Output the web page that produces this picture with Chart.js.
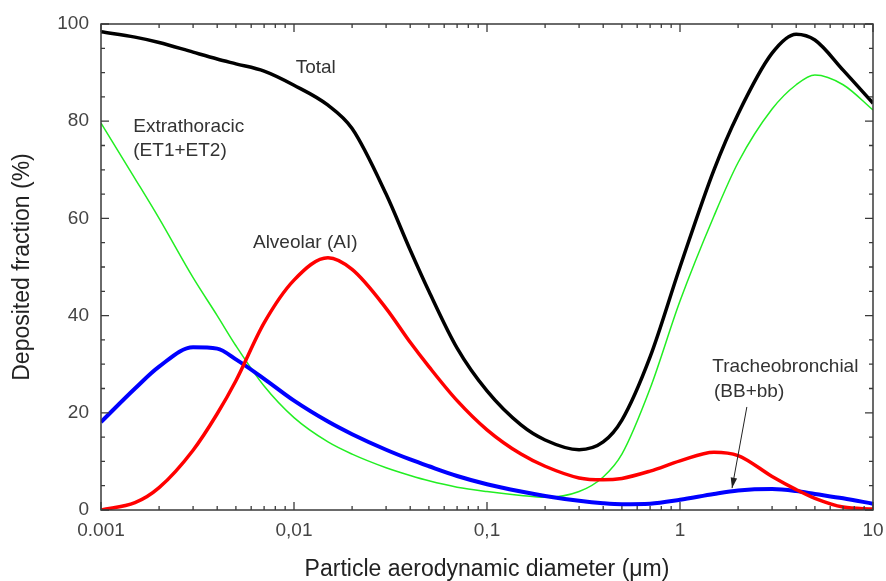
<!DOCTYPE html>
<html>
<head>
<meta charset="utf-8">
<script src="https://cdn.jsdelivr.net/npm/chart.js@4"></script>
<style>
  html, body { margin: 0; padding: 0; background: #fff; }
  #wrap { width: 886px; height: 581px; }
</style>
</head>
<body>
<div id="wrap"><canvas id="graficoDeposicao"></canvas></div>
<script>
// particle diameter (um)
const diameters = [0.001, 0.0015, 0.002, 0.003, 0.004, 0.005, 0.007, 0.01, 0.015, 0.02, 0.03, 0.04, 0.05, 0.07,
    0.1, 0.15, 0.2, 0.3, 0.4, 0.5, 0.7, 1, 1.5, 2, 3, 4, 5, 7, 10];

// deposited fraction (%)
const total = [98.4, 97.3, 96.2, 94.2, 92.8, 91.8, 90.3, 87.4, 83.3, 78.5, 65, 53.5, 45, 33.3,
    24.5, 17.5, 14.4, 12.4, 14, 18.5, 31.5, 50, 70, 81.5, 94, 97.9, 96.7, 90.5, 83.7];
const alveolar = [0, 1.5, 4.6, 12.3, 19.8, 26.6, 38.5, 47.3, 51.9, 49.5, 41.5, 34.5, 29.5, 22.5,
    16.5, 11.5, 9, 6.6, 6.2, 6.5, 8, 10.1, 11.9, 11.2, 6.9, 4.2, 2.4, 0.6, 0.2];
const tracheobronchial = [18.1, 25, 29.5, 33.5, 33.2, 31, 27, 22.5, 18.2, 15.6, 12.4, 10.4, 9, 7,
    5.3, 3.8, 2.9, 1.9, 1.4, 1.2, 1.3, 2.1, 3.3, 4.0, 4.3, 3.9, 3.3, 2.4, 1.3];
const extrathoracic = [79.6, 68.2, 60, 47.8, 40, 33.8, 25.5, 19, 14, 11.5, 8.7, 7.1, 6, 4.7,
    3.8, 3.0, 2.6, 3.8, 6.8, 11.5, 25, 43, 60.5, 71.5, 82.5, 87.5, 89.5, 87.5, 82.3];

const xTickValues = [0.001, 0.01, 0.1, 1, 10];
const xTickLabels = ["0.001", "0,01", "0,1", "1", "10"];

// curve labels, in data units (diameter, fraction)
const curveLabels = [
    { text: "Total", x: 0.0102, y: 91 },
    { text: "Extrathoracic", x: 0.00147, y: 78.8 },
    { text: "(ET1+ET2)", x: 0.00147, y: 74 },
    { text: "Alveolar (AI)", x: 0.00613, y: 54.9 },
    { text: "Tracheobronchial", x: 1.47, y: 29.4 },
    { text: "(BB+bb)", x: 1.5, y: 24.3 }
];
const arrowFrom = { x: 2.22, y: 21.2 };
const arrowTo = { x: 1.86, y: 4.5 };

const FONT = "'Liberation Sans', Arial, Helvetica, sans-serif";

function pontos(valores) {
    return diameters.map((d, i) => ({ x: d, y: valores[i] }));
}

// frame and inward ticks on all four sides
const moldura = {
    id: "moldura",
    afterDraw(chart) {
        const { ctx, chartArea: a, scales } = chart;
        const x = scales.x, y = scales.y;
        ctx.save();
        ctx.strokeStyle = "#3a3a3a";
        ctx.lineWidth = 1.5;
        ctx.strokeRect(a.left, a.top, a.right - a.left, a.bottom - a.top);
        ctx.lineWidth = 1.3;
        ctx.beginPath();
        for (let n = -3; n <= 1; n++) {
            for (let k = 1; k <= 9; k++) {
                const v = k * Math.pow(10, n);
                if (v > 10.0001) break;
                const px = x.getPixelForValue(v);
                const len = k === 1 ? 8 : 4;
                ctx.moveTo(px, a.bottom); ctx.lineTo(px, a.bottom - len);
                ctx.moveTo(px, a.top); ctx.lineTo(px, a.top + len);
            }
        }
        for (let v = 0; v <= 100; v += 5) {
            const py = y.getPixelForValue(v);
            const len = v % 20 === 0 ? 8 : 4;
            ctx.moveTo(a.left, py); ctx.lineTo(a.left + len, py);
            ctx.moveTo(a.right, py); ctx.lineTo(a.right - len, py);
        }
        ctx.stroke();
        ctx.restore();
    }
};

const rotulos = {
    id: "rotulos",
    afterDatasetsDraw(chart) {
        const { ctx, scales } = chart;
        const x = scales.x, y = scales.y;
        ctx.save();
        ctx.fillStyle = "#333";
        ctx.font = "19px " + FONT;
        ctx.textAlign = "left";
        ctx.textBaseline = "middle";
        curveLabels.forEach(l => {
            ctx.fillText(l.text, x.getPixelForValue(l.x), y.getPixelForValue(l.y));
        });

        const x1 = x.getPixelForValue(arrowFrom.x), y1 = y.getPixelForValue(arrowFrom.y);
        const x2 = x.getPixelForValue(arrowTo.x), y2 = y.getPixelForValue(arrowTo.y);
        ctx.strokeStyle = "#222";
        ctx.lineWidth = 1;
        ctx.beginPath();
        ctx.moveTo(x1, y1);
        ctx.lineTo(x2, y2);
        ctx.stroke();
        const ang = Math.atan2(y2 - y1, x2 - x1);
        ctx.beginPath();
        ctx.moveTo(x2, y2);
        ctx.lineTo(x2 - 11 * Math.cos(ang - 0.3), y2 - 11 * Math.sin(ang - 0.3));
        ctx.lineTo(x2 - 11 * Math.cos(ang + 0.3), y2 - 11 * Math.sin(ang + 0.3));
        ctx.closePath();
        ctx.fillStyle = "#222";
        ctx.fill();
        ctx.restore();
    }
};

const ctx = document.getElementById("graficoDeposicao");

new Chart(ctx, {
    type: "line",
    data: {
        datasets: [
            {
                label: "Total",
                data: pontos(total),
                borderColor: "#000000",
                borderWidth: 3.5
            },
            {
                label: "Alveolar (AI)",
                data: pontos(alveolar),
                borderColor: "#ff0000",
                borderWidth: 3.5
            },
            {
                label: "Tracheobronchial (BB+bb)",
                data: pontos(tracheobronchial),
                borderColor: "#0000ff",
                borderWidth: 4
            },
            {
                label: "Extrathoracic (ET1+ET2)",
                data: pontos(extrathoracic),
                borderColor: "#22ee22",
                borderWidth: 1.5
            }
        ]
    },
    options: {
        responsive: true,
        maintainAspectRatio: false,
        animation: false,
        events: [],
        layout: {
            padding: { top: 24, right: 13, left: 0, bottom: 0 }
        },
        elements: {
            point: { radius: 0 },
            line: { cubicInterpolationMode: "monotone", fill: false }
        },
        plugins: {
            legend: { display: false },
            tooltip: { enabled: false }
        },
        scales: {
            x: {
                type: "logarithmic",
                min: 0.001,
                max: 10,
                border: { display: false },
                grid: { display: false, drawTicks: false },
                afterBuildTicks(scale) {
                    scale.ticks = xTickValues.map(v => ({ value: v }));
                },
                afterFit(scale) {
                    scale.height = 71;
                    scale.paddingLeft = 0;
                    scale.paddingRight = 0;
                },
                ticks: {
                    autoSkip: false,
                    maxRotation: 0,
                    padding: 9,
                    color: "#444",
                    font: { family: FONT, size: 19 },
                    callback(value) {
                        const i = xTickValues.findIndex(v => Math.abs(v - value) < v * 1e-6);
                        return i >= 0 ? xTickLabels[i] : "";
                    }
                },
                title: {
                    display: true,
                    text: "Particle aerodynamic diameter (μm)",
                    color: "#222",
                    font: { family: FONT, size: 23, lineHeight: 1 },
                    padding: { top: 0, bottom: 0 }
                }
            },
            y: {
                min: 0,
                max: 100,
                border: { display: false },
                grid: { display: false, drawTicks: false },
                afterFit(scale) {
                    scale.width = 101;
                    scale.paddingTop = 0;
                    scale.paddingBottom = 0;
                },
                ticks: {
                    stepSize: 20,
                    padding: 12,
                    color: "#444",
                    font: { family: FONT, size: 19 }
                },
                title: {
                    display: true,
                    text: "Deposited fraction (%)",
                    color: "#222",
                    font: { family: FONT, size: 23, lineHeight: 1 },
                    padding: { top: 11, bottom: 0 }
                }
            }
        }
    },
    plugins: [moldura, rotulos]
});
</script>
</body>
</html>
